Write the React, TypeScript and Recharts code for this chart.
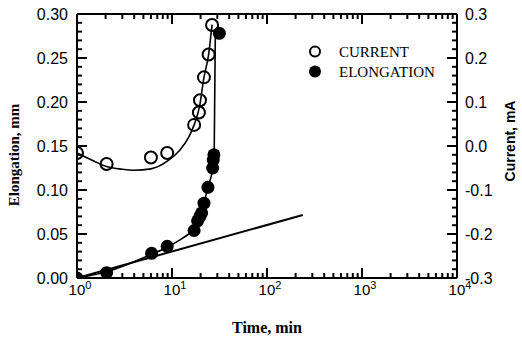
import React from 'react';
import { ComposedChart, Line, Scatter, XAxis, YAxis, Label } from 'recharts';

// measured points (time in min)
const currentTime = [1, 2.05, 6.0, 8.9, 17.1, 19.2, 19.7, 21.7, 24.3, 26.4];
const currentValue = [-0.016, -0.041, -0.026, -0.016, 0.048, 0.076, 0.104, 0.156, 0.208, 0.275];

const elongTime = [1, 2.05, 6.1, 8.9, 17.1, 18.6, 19.7, 20.5, 21.7, 23.9, 26.8, 27.2, 27.6, 31.5];
const elongValue = [0, 0.006, 0.028, 0.036, 0.054, 0.065, 0.07, 0.074, 0.085, 0.103, 0.125, 0.134, 0.14, 0.278];

// hand-drawn fit curves
const currentFitTime = [1, 1.5, 2, 3, 4, 6, 9, 12, 15, 17.1, 19.5, 21.7, 24.3, 26.4];
const currentFitValue = [-0.016, -0.034, -0.046, -0.053, -0.055, -0.052, -0.034, -0.01, 0.02, 0.048, 0.09, 0.156, 0.208, 0.276];

const elongFitTime = [1, 2.05, 6.1, 8.9, 12, 15, 17.1, 19.7, 21.7, 23.9, 26.8, 27.8, 28.6];
const elongFitValue = [0, 0.007, 0.027, 0.035, 0.043, 0.05, 0.055, 0.07, 0.085, 0.103, 0.125, 0.14, 0.282];

const trendTime = [1, 238];
const trendValue = [0, 0.0716];

// axis ticks
const xMajor = [1, 10, 100, 1000, 10000];
const xTicks = [1, 2, 3, 4, 5, 6, 7, 8, 9, 10, 20, 30, 40, 50, 60, 70, 80, 90, 100, 200, 300, 400, 500, 600, 700, 800, 900, 1000, 2000, 3000, 4000, 5000, 6000, 7000, 8000, 9000, 10000];
const leftTicks = [0, 0.01, 0.02, 0.03, 0.04, 0.05, 0.06, 0.07, 0.08, 0.09, 0.1, 0.11, 0.12, 0.13, 0.14, 0.15, 0.16, 0.17, 0.18, 0.19, 0.2, 0.21, 0.22, 0.23, 0.24, 0.25, 0.26, 0.27, 0.28, 0.29, 0.3];
const rightTicks = [-0.3, -0.28, -0.26, -0.24, -0.22, -0.2, -0.18, -0.16, -0.14, -0.12, -0.1, -0.08, -0.06, -0.04, -0.02, 0, 0.02, 0.04, 0.06, 0.08, 0.1, 0.12, 0.14, 0.16, 0.18, 0.2, 0.22, 0.24, 0.26, 0.28, 0.3];

const zip = (xs: number[], ys: number[]) => xs.map((x, i) => ({ x, y: ys[i] }));
const currentData = zip(currentTime, currentValue);
const elongData = zip(elongTime, elongValue);
const currentFit = zip(currentFitTime, currentFitValue);
const elongFit = zip(elongFitTime, elongFitValue);
const trendData = zip(trendTime, trendValue);

const SANS = '"Liberation Sans", Arial, sans-serif';
const SERIF = '"Liberation Serif", "Times New Roman", serif';

const isMajorX = (v: number) => xMajor.some((m) => Math.abs(m - v) < 1e-9);

const BottomTick = (props: any) => {
  const { x, y, payload } = props;
  const major = isMajorX(payload.value);
  const exp = Math.round(Math.log10(payload.value));
  return (
    <g>
      <path d={`M${x},${y}L${x},${y - (major ? 10 : 5)}`} stroke="#000" strokeWidth={2} fill="none" />
      {major && (
        <text x={x + 3} y={y + 17} textAnchor="middle" fontFamily={SANS} fontSize={15} fill="#000">
          10
          <tspan dy={-6} fontSize={11}>{exp}</tspan>
        </text>
      )}
    </g>
  );
};

const TopTick = (props: any) => {
  const { x, y, payload } = props;
  const major = isMajorX(payload.value);
  return (
    <g>
      <path d={`M${x},${y}L${x},${y + (major ? 10 : 5)}`} stroke="#000" strokeWidth={2} fill="none" />
    </g>
  );
};

const LeftTick = (props: any) => {
  const { x, y, payload } = props;
  const v = payload.value;
  const major = Math.abs(v * 20 - Math.round(v * 20)) < 1e-6;
  return (
    <g>
      <path d={`M${x},${y}L${x + (major ? 10 : 5)},${y}`} stroke="#000" strokeWidth={2} fill="none" />
      {major && (
        <text x={x - 9} y={y + 5.5} textAnchor="end" fontFamily={SANS} fontSize={16} fill="#000">
          {v.toFixed(2)}
        </text>
      )}
    </g>
  );
};

const RightTick = (props: any) => {
  const { x, y, payload } = props;
  const v = payload.value;
  const major = Math.abs(v * 10 - Math.round(v * 10)) < 1e-6;
  return (
    <g>
      <path d={`M${x},${y}L${x - (major ? 10 : 5)},${y}`} stroke="#000" strokeWidth={2} fill="none" />
      {major && (
        <text x={x + 8} y={y + 5.5} textAnchor="start" fontFamily={SANS} fontSize={16} fill="#000">
          {v.toFixed(1)}
        </text>
      )}
    </g>
  );
};

const OpenDot = (props: any) => (
  <circle cx={props.cx} cy={props.cy} r={6} fill="none" stroke="#000" strokeWidth={2} />
);
const FilledDot = (props: any) => <circle cx={props.cx} cy={props.cy} r={6.5} fill="#000" />;
const NoDot = () => <g />;

const frame = { stroke: '#000', strokeWidth: 2 };

// axis titles and legend, drawn inside the chart svg
const ElongTitle = () => (
  <text x={14} y={155} transform="rotate(-90 14 155)" textAnchor="middle" dominantBaseline="central" fontFamily={SERIF} fontWeight="bold" fontSize={15}>
    Elongation, mm
  </text>
);
const CurrentTitle = () => (
  <g>
    <text x={510} y={141} transform="rotate(-90 510 141)" textAnchor="middle" dominantBaseline="central" fontFamily={SANS} fontWeight="bold" fontSize={14}>
      Current, mA
    </text>
    <circle cx={315} cy={51.5} r={5} fill="none" stroke="#000" strokeWidth={2} />
    <text x={339} y={57} fontFamily={SERIF} fontSize={15}>CURRENT</text>
    <circle cx={315} cy={71.5} r={6} fill="#000" />
    <text x={339} y={77} fontFamily={SERIF} fontSize={15}>ELONGATION</text>
  </g>
);
const TimeTitle = () => (
  <text x={267} y={333} textAnchor="middle" fontFamily={SERIF} fontWeight="bold" fontSize={16}>
    Time, min
  </text>
);

export default function App() {
  return (
    <div style={{ position: 'absolute', left: 0, top: 0, width: 522, height: 340, background: '#fff' }}>
      <ComposedChart width={522} height={340} margin={{ top: 13, right: 0, bottom: 0, left: 0 }}>
        <XAxis xAxisId="b" dataKey="x" type="number" scale="log" domain={[1, 10000]} allowDataOverflow ticks={xTicks} interval={0} tick={<BottomTick />} tickSize={0} tickMargin={0} tickLine={false} axisLine={frame} height={62}>
          <Label content={<TimeTitle />} />
        </XAxis>
        <XAxis xAxisId="t" orientation="top" dataKey="x" type="number" scale="log" domain={[1, 10000]} allowDataOverflow ticks={xTicks} interval={0} tick={<TopTick />} tickSize={0} tickMargin={0} tickLine={false} axisLine={frame} height={1} />
        <YAxis yAxisId="l" dataKey="y" type="number" domain={[0, 0.3]} allowDataOverflow ticks={leftTicks} interval={0} tick={<LeftTick />} tickSize={0} tickMargin={0} tickLine={false} axisLine={frame} width={77}>
          <Label content={<ElongTitle />} />
        </YAxis>
        <YAxis yAxisId="r" orientation="right" dataKey="y" type="number" domain={[-0.3, 0.3]} allowDataOverflow ticks={rightTicks} interval={0} tick={<RightTick />} tickSize={0} tickMargin={0} tickLine={false} axisLine={frame} width={65}>
          <Label content={<CurrentTitle />} />
        </YAxis>
        <Line xAxisId="b" yAxisId="l" data={trendData} dataKey="y" type="linear" stroke="#000" strokeWidth={2} dot={false} isAnimationActive={false} />
        <Line xAxisId="b" yAxisId="r" data={currentFit} dataKey="y" type="monotone" stroke="#000" strokeWidth={1.6} dot={false} isAnimationActive={false} />
        <Line xAxisId="b" yAxisId="l" data={elongFit} dataKey="y" type="monotone" stroke="#000" strokeWidth={1.6} dot={false} isAnimationActive={false} />
        <Scatter xAxisId="b" yAxisId="r" data={currentData} dataKey="y" shape={<OpenDot />} isAnimationActive={false} />
        <Scatter xAxisId="b" yAxisId="l" data={elongData} dataKey="y" shape={<FilledDot />} isAnimationActive={false} />
        <Scatter xAxisId="t" yAxisId="l" data={trendData} dataKey="y" shape={<NoDot />} isAnimationActive={false} />
      </ComposedChart>
    </div>
  );
}
